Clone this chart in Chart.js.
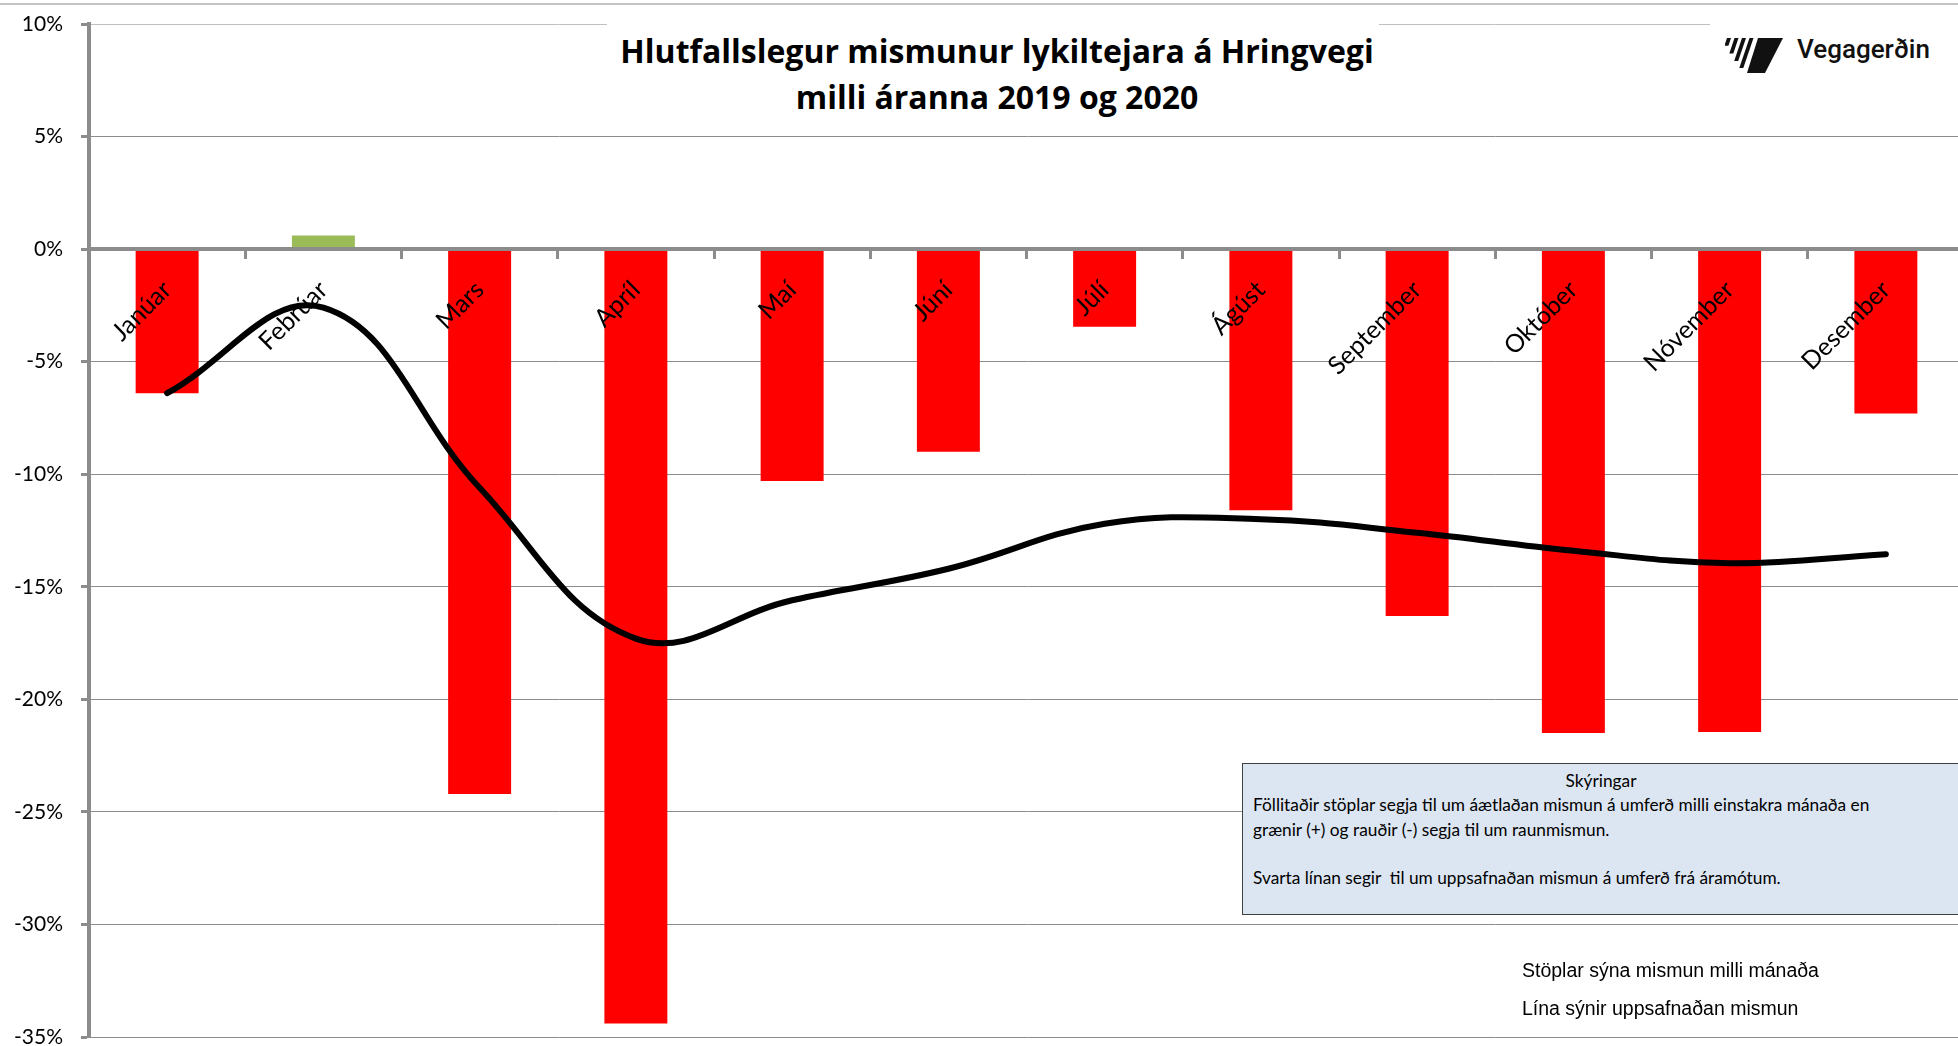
<!DOCTYPE html>
<html lang="is">
<head>
<meta charset="utf-8">
<title>Hlutfallslegur mismunur lykiltejara á Hringvegi</title>
<script src="https://cdn.jsdelivr.net/npm/chart.js@4.4.1/dist/chart.umd.min.js"></script>
<style>
  body { margin: 0; overflow: hidden; background: #fff; }
  #wrap { position: relative; width: 1958px; height: 1046px; overflow: hidden; }
  #chart { display: block; position: absolute; left: 0; top: 0; }
  .topline { position: absolute; left: 0; top: 3px; width: 1958px; height: 2px; background: #c4c4c4; }
  #titlebox { position: absolute; left: 607px; top: 14px; width: 772px; height: 112px; background: #fff; }
  #title {
    position: absolute; left: 997px; top: 28px; transform: translateX(-50%);
    white-space: nowrap; text-align: center; font: 700 32px/46px "Open Sans", sans-serif; color: #000;
  }
  #logo { position: absolute; left: 1710px; top: 14px; width: 248px; height: 76px; background: #fff; }
  #logo svg { position: absolute; left: 15px; top: 22px; }
  #logo span { position: absolute; left: 87px; top: 22px; font: 500 26px/26px Roboto, sans-serif; color: #111; }
  #note {
    position: absolute; left: 1242px; top: 763px; width: 718px; height: 152px; box-sizing: border-box;
    background: #dce6f2; border: 1.5px solid #404040; padding: 5px 0 0 10px;
    font: 17.3px/24.3px Lato, sans-serif; color: #000;
  }
  #note .head { text-align: center; padding-right: 10px; }
  #legendtext {
    position: absolute; left: 1522px; top: 951px;
    font: 19.5px/38px "Liberation Sans", Arial, sans-serif; color: #000;
  }
</style>
</head>
<body>
<div id="wrap">
  <canvas id="chart" width="1966" height="1046"></canvas>
  <div class="topline"></div>
  <div id="titlebox"></div>
  <div id="title">Hlutfallslegur mismunur lykiltejara á Hringvegi<br>milli áranna 2019 og 2020</div>
  <div id="logo">
    <svg width="62" height="40" viewBox="0 0 62 40">
      <polygon points="2,2 6,2 3.4,9.7 -0.6,9.7" fill="#111"/>
      <polygon points="9.5,2 13.5,2 8.3,17.4 4.3,17.4" fill="#111"/>
      <polygon points="17,2 21,2 13.2,25 9.2,25" fill="#111"/>
      <polygon points="24.5,2 28.5,2 18.3,32 14.3,32" fill="#111"/>
      <polygon points="33,2 58,2 40,37 22,37" fill="#111"/>
    </svg>
    <span>Vegagerðin</span>
  </div>
  <div id="note">
    <div class="head">Skýringar</div>
    <div>Föllitaðir stöplar segja til um áætlaðan mismun á umferð milli einstakra mánaða en</div>
    <div>grænir (+) og rauðir (-) segja til um raunmismun.</div>
    <div>&nbsp;</div>
    <div>Svarta línan segir&nbsp; til um uppsafnaðan mismun á umferð frá áramótum.</div>
  </div>
  <div id="legendtext">Stöplar sýna mismun milli mánaða<br>Lína sýnir uppsafnaðan mismun</div>
</div>
<script>
// months on the x axis
const months = ["Janúar", "Febrúar", "Mars", "Apríl", "Maí", "Júní", "Júlí", "Ágúst", "September", "Október", "Nóvember", "Desember"];
// difference between months (%), bars
const monthlyDiff = [-6.4, 0.6, -24.2, -34.4, -10.3, -9.0, -3.45, -11.6, -16.3, -21.5, -21.45, -7.3];
// accumulated difference since new year (%), line
const cumulativeDiff = [-6.4, -2.6, -10.6, -17.3, -15.6, -14.2, -12.2, -12.0, -12.6, -13.4, -13.95, -13.55];
// y axis ticks (%)
const yTickValues = [10, 5, 0, -5, -10, -15, -20, -25, -30, -35];

const axisGray = "#8c8c8c";
const barColors = monthlyDiff.map((v) => (v >= 0 ? "#9bbb59" : "#ff0000"));

const ctx = document.getElementById("chart");

const chart = new Chart(ctx, {
  type: "bar",
  data: {
    labels: months,
    datasets: [
      {
        type: "line",
        label: "Uppsafnaður mismunur",
        data: cumulativeDiff,
        borderColor: "#000",
        borderWidth: 6,
        borderCapStyle: "round",
        tension: 0.4,
        pointRadius: 0,
        fill: false,
        order: 0,
      },
      {
        type: "bar",
        label: "Mismunur milli mánaða",
        data: monthlyDiff,
        backgroundColor: barColors,
        categoryPercentage: 1,
        barPercentage: 0.403,
        order: 1,
      },
    ],
  },
  options: {
    responsive: false,
    animation: false,
    devicePixelRatio: 1,
    layout: { padding: { top: 24, bottom: 9, left: 0, right: 2 } },
    plugins: {
      legend: { display: false },
      tooltip: { enabled: false },
    },
    scales: {
      x: {
        position: { y: 0 },
        grid: {
          z: 1,
          offset: true,
          drawOnChartArea: false,
          drawTicks: true,
          tickLength: 8,
          tickWidth: 3,
          tickColor: axisGray,
        },
        border: { display: true, color: axisGray, width: 4, z: 1 },
        ticks: {
          z: 1,
          autoSkip: false,
          minRotation: 45,
          maxRotation: 45,
          padding: 18,
          color: "#000",
          font: { family: "Lato", size: 25 },
        },
      },
      y: {
        min: -35,
        max: 10,
        afterBuildTicks: (scale) => {
          scale.ticks = yTickValues.map((v) => ({ value: v }));
        },
        afterFit: (scale) => {
          scale.width = 89;
          scale.paddingTop = 0;
          scale.paddingBottom = 0;
        },
        grid: {
          color: (c) => (c.tick && c.tick.value === 10 ? "#c0c0c0" : axisGray),
          lineWidth: 1,
          tickLength: 8,
          tickWidth: 3,
          tickColor: axisGray,
        },
        border: { display: true, color: axisGray, width: 4 },
        ticks: {
          padding: 18,
          color: "#000",
          font: { family: "Lato", size: 21 },
          callback: (v) => v + "%",
        },
      },
    },
  },
});
</script>
</body>
</html>
